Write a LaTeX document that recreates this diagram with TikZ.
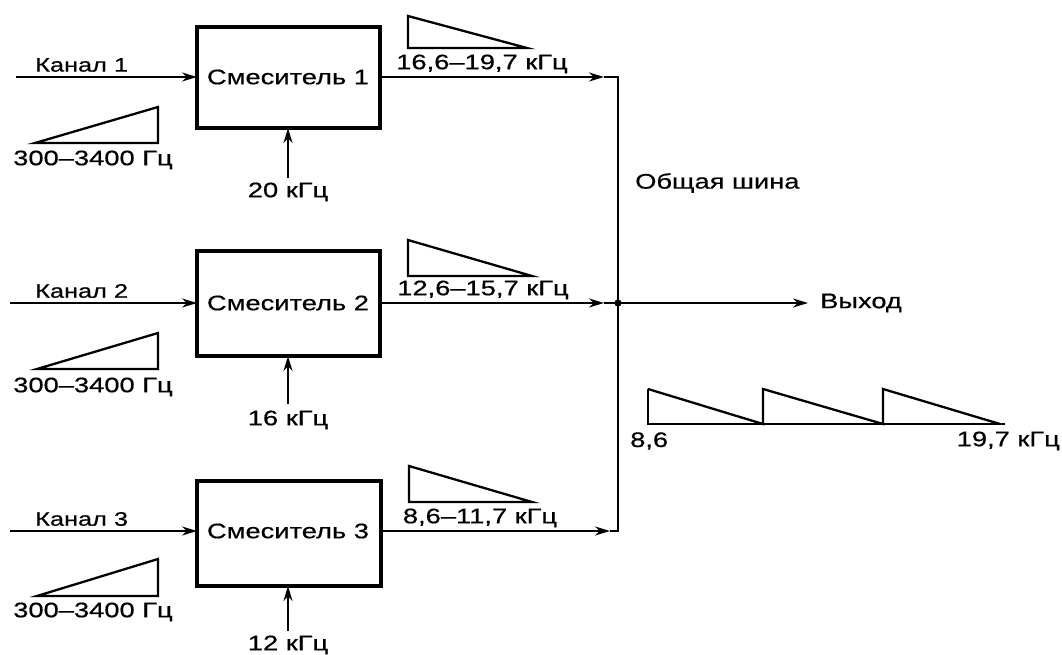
\documentclass[tikz,border=0pt]{standalone}
\usepackage{fontspec}
\setmainfont{Liberation Sans}[FakeStretch=1.3,FakeBold=0.6]
\usetikzlibrary{arrows.meta}
\begin{document}
\begin{tikzpicture}[x=1pt,y=-1pt,
  mixer/.style={draw,line width=3.4pt},
  lbl/.style={inner sep=0pt,font=\fontsize{21}{23}\selectfont},
  klbl/.style={inner sep=0pt,font=\fontsize{19.5}{21}\selectfont},
  mixlbl/.style={inner sep=0pt,font=\fontsize{21}{23}\selectfont},
  conn/.style={line width=2.1pt},
  arr/.style={conn,-{Stealth[length=15pt,width=9pt]}},
  spec/.style={line width=2.3pt,line join=miter}
]
\useasboundingbox (0,0) rectangle (1062,655);
% mixers
\draw[mixer] (197,27) rectangle (380,128);
\draw[mixer] (197,251) rectangle (380,356);
\draw[mixer] (197,481) rectangle (381,586);
\node[mixlbl] (m1) at (288,77) {Смеситель 1};
\node[mixlbl] (m2) at (288,303) {Смеситель 2};
\node[mixlbl] (m3) at (288,531) {Смеситель 3};
\coordinate (m1w) at (197,77); \coordinate (m1e) at (380,77); \coordinate (m1s) at (288,128);
\coordinate (m2w) at (197,303); \coordinate (m2e) at (380,303); \coordinate (m2s) at (288,356);
\coordinate (m3w) at (197,531); \coordinate (m3e) at (381,531); \coordinate (m3s) at (288,586);
% inputs
\coordinate (c1) at (16,77); \coordinate (c2) at (10,303); \coordinate (c3) at (10,531);
\draw[arr,line width=1.6pt] (c1) -- (m1w);
\draw[arr,line width=1.6pt] (c2) -- (m2w);
\draw[arr,line width=1.6pt] (c3) -- (m3w);
\node[klbl,anchor=west] (k1) at (35,65) {Канал 1};
\node[klbl,anchor=west] (k2) at (35,291) {Канал 2};
\node[klbl,anchor=west] (k3) at (35,519) {Канал 3};
% input spectra
\draw[spec] (35,143) -- (158,143) -- (158,107) -- cycle;
\draw[spec] (37,369) -- (158,369) -- (158,333) -- cycle;
\draw[spec] (37,596) -- (158,596) -- (158,559) -- cycle;
\node[lbl] (s1) at (93,160) {300–3400 Гц};
\node[lbl] (s2) at (93,387) {300–3400 Гц};
\node[lbl] (s3) at (93,612) {300–3400 Гц};
% local oscillators
\node[lbl] (f1) at (288,192) {20 кГц};
\node[lbl] (f2) at (288,420) {16 кГц};
\node[lbl] (f3) at (288,645) {12 кГц};
\coordinate (f1t) at (288,178); \coordinate (f2t) at (288,404); \coordinate (f3t) at (288,631);
\draw[arr] (f1t) -- (m1s);
\draw[arr] (f2t) -- (m2s);
\draw[arr] (f3t) -- (m3s);
% output spectra
\draw[spec] (408,16) -- (408,48) -- (527,48) -- cycle;
\draw[spec] (408,240) -- (408,276) -- (532,276) -- cycle;
\draw[spec] (409,466) -- (409,502) -- (532,502) -- cycle;
\node[lbl] (o1) at (482,64) {16,6–19,7 кГц};
\node[lbl] (o2) at (483,290) {12,6–15,7 кГц};
\node[lbl] (o3) at (480,518) {8,6–11,7 кГц};
% bus
\coordinate (bt) at (618,77); \coordinate (bj) at (618,303); \coordinate (bb) at (618,531);
\coordinate (a1) at (604,77); \coordinate (a2) at (604,303); \coordinate (a3) at (610,531);
\draw[arr] (m1e) -- (a1);
\draw[arr] (m2e) -- (a2);
\draw[arr] (m3e) -- (a3);
\draw[conn,line join=miter] (a1) -- (bt) -- (bb) -- (a3);
\draw[conn] (a2) -- (bj);
\fill (bj) circle (3.6pt);
\node[lbl,anchor=west] (bus) at (635,183) {Общая шина};
\node[lbl,anchor=west] (out) at (820,303) {Выход};
\coordinate (outt) at (808,303);
\draw[arr] (bj) -- (outt);
% group spectrum
\draw[spec] (648,389) -- (648,424) -- (1005,424);
\draw[spec] (648,389) -- (763,424) -- (763,389) -- (883,424) -- (883,389) -- (1000,424);
\node[lbl,anchor=west] (g1) at (630,441) {8,6};
\node[lbl,anchor=east] (g2) at (1060,441) {19,7 кГц};
\end{tikzpicture}
\end{document}
